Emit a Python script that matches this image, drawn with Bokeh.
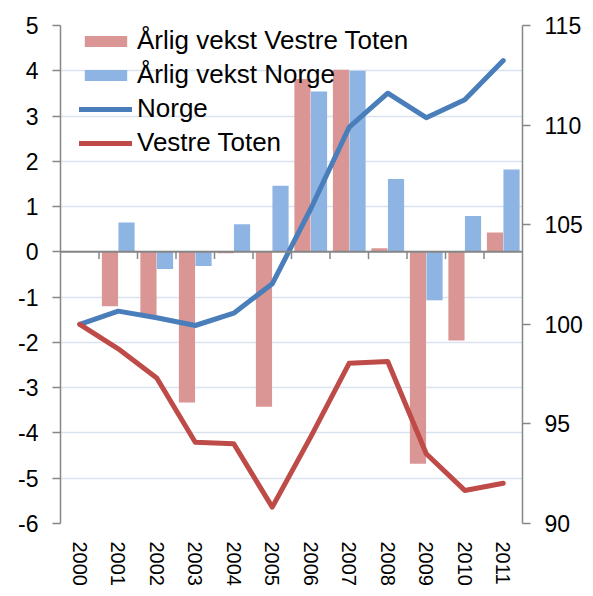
import math
from bokeh.plotting import figure
from bokeh.models import (ColumnDataSource, Range1d, LinearAxis, FactorRange, Span,
                          Legend, LegendItem, FixedTicker)
from bokeh.transform import dodge
from bokeh.embed import file_html
from bokeh.resources import INLINE

years = ["2000", "2001", "2002", "2003", "2004", "2005", "2006", "2007",
         "2008", "2009", "2010", "2011"]
vekst_vestre_toten = [0.0, -1.20, -1.40, -3.33, -0.03, -3.42, 3.82, 4.02, 0.08, -4.68, -1.96, 0.43]
vekst_norge = [0.0, 0.65, -0.38, -0.31, 0.61, 1.46, 3.54, 4.00, 1.61, -1.07, 0.79, 1.82]
norge_index = [100.0, 100.66, 100.33, 99.94, 100.56, 102.03, 105.8, 109.9, 111.6, 110.37, 111.27, 113.24]
vestre_toten_index = [100.0, 98.77, 97.3, 94.08, 94.0, 90.82, 94.35, 98.05, 98.13, 93.5, 91.66, 92.02]
left_ticks = [-6, -5, -4, -3, -2, -1, 0, 1, 2, 3, 4, 5]
right_ticks = [90, 95, 100, 105, 110, 115]

FONT = "Liberation Sans"
AXIS_GRAY = "#868686"

src = ColumnDataSource(data=dict(year=years, vt=vekst_vestre_toten, no=vekst_norge,
                                 ni=norge_index, vi=vestre_toten_index))

p = figure(width=585, height=588, x_range=FactorRange(*years), y_range=Range1d(-6, 5),
           output_backend="svg", toolbar_location=None,
           min_border_left=60, min_border_right=61, min_border_top=25, min_border_bottom=65)
p.outline_line_color = None
p.background_fill_color = "white"
p.extra_y_ranges = {"right": Range1d(90, 115)}

# grid
p.xgrid.grid_line_color = None
p.ygrid.grid_line_color = "#D9E3F0"
p.ygrid.grid_line_width = 1.5
p.ygrid.ticker = FixedTicker(ticks=left_ticks)

# left axis
ya = p.yaxis[0]
ya.ticker = FixedTicker(ticks=left_ticks)
ya.major_label_overrides = {t: str(t) for t in left_ticks}
ya.axis_line_color = AXIS_GRAY
ya.axis_line_width = 1.5
ya.major_tick_line_color = AXIS_GRAY
ya.major_tick_line_width = 1.5
ya.major_tick_out = 8
ya.major_tick_in = 0
ya.minor_tick_line_color = None
ya.major_label_text_font = FONT
ya.major_label_text_font_size = "23px"
ya.major_label_text_color = "black"
ya.major_label_standoff = 14

# x axis (labels only)
xa = p.xaxis[0]
xa.axis_line_color = None
xa.major_tick_line_color = None
xa.minor_tick_line_color = None
xa.major_tick_out = 0
xa.major_tick_in = 0
xa.major_label_orientation = -math.pi / 2
xa.major_label_text_font = FONT
xa.major_label_text_font_size = "20px"
xa.major_label_text_color = "black"
xa.major_label_standoff = 18

# right axis
ra = LinearAxis(y_range_name="right", ticker=FixedTicker(ticks=right_ticks))
ra.axis_line_color = AXIS_GRAY
ra.axis_line_width = 1.5
ra.major_tick_line_color = AXIS_GRAY
ra.major_tick_line_width = 1.5
ra.major_tick_out = 8
ra.major_tick_in = 0
ra.minor_tick_line_color = None
ra.major_label_text_font = FONT
ra.major_label_text_font_size = "23px"
ra.major_label_text_color = "black"
ra.major_label_standoff = 14
p.add_layout(ra, "right")

# bars
bw = 0.42
r_bar_vt = p.vbar(x=dodge("year", -0.215, range=p.x_range), top="vt", bottom=0, width=bw,
                  source=src, fill_color="#D99694", line_color=None)
r_bar_no = p.vbar(x=dodge("year", 0.215, range=p.x_range), top="no", bottom=0, width=bw,
                  source=src, fill_color="#8EB4E3", line_color=None)

# zero axis line with tick marks at category boundaries
p.add_layout(Span(location=0, dimension="width", line_color=AXIS_GRAY, line_width=2))
tick_src = ColumnDataSource(data=dict(year=years[1:], y0=[0] * (len(years) - 1),
                                      y1=[-0.16] * (len(years) - 1)))
p.segment(x0=dodge("year", -0.5, range=p.x_range), x1=dodge("year", -0.5, range=p.x_range),
          y0="y0", y1="y1", source=tick_src, line_color=AXIS_GRAY, line_width=1.5)

# lines
r_no = p.line(x="year", y="ni", source=src, y_range_name="right", line_color="#4A7EBB",
              line_width=5, line_join="round", line_cap="round")
r_vt = p.line(x="year", y="vi", source=src, y_range_name="right", line_color="#BE4B48",
              line_width=5, line_join="round", line_cap="round")

legend = Legend(items=[
    LegendItem(label="Årlig vekst Vestre Toten", renderers=[r_bar_vt]),
    LegendItem(label="Årlig vekst Norge", renderers=[r_bar_no]),
    LegendItem(label="Norge", renderers=[r_no]),
    LegendItem(label="Vestre Toten", renderers=[r_vt]),
], location=(19, 365))
legend.border_line_color = None
legend.background_fill_alpha = 0
legend.padding = 0
legend.margin = 0
legend.spacing = 3
legend.glyph_width = 53
legend.glyph_height = 14
legend.label_height = 30
legend.label_standoff = 5
legend.label_text_font = FONT
legend.label_text_font_size = "26px"
legend.label_text_color = "black"
p.add_layout(legend, "center")

open("out.html", "w").write(file_html(p, INLINE))
